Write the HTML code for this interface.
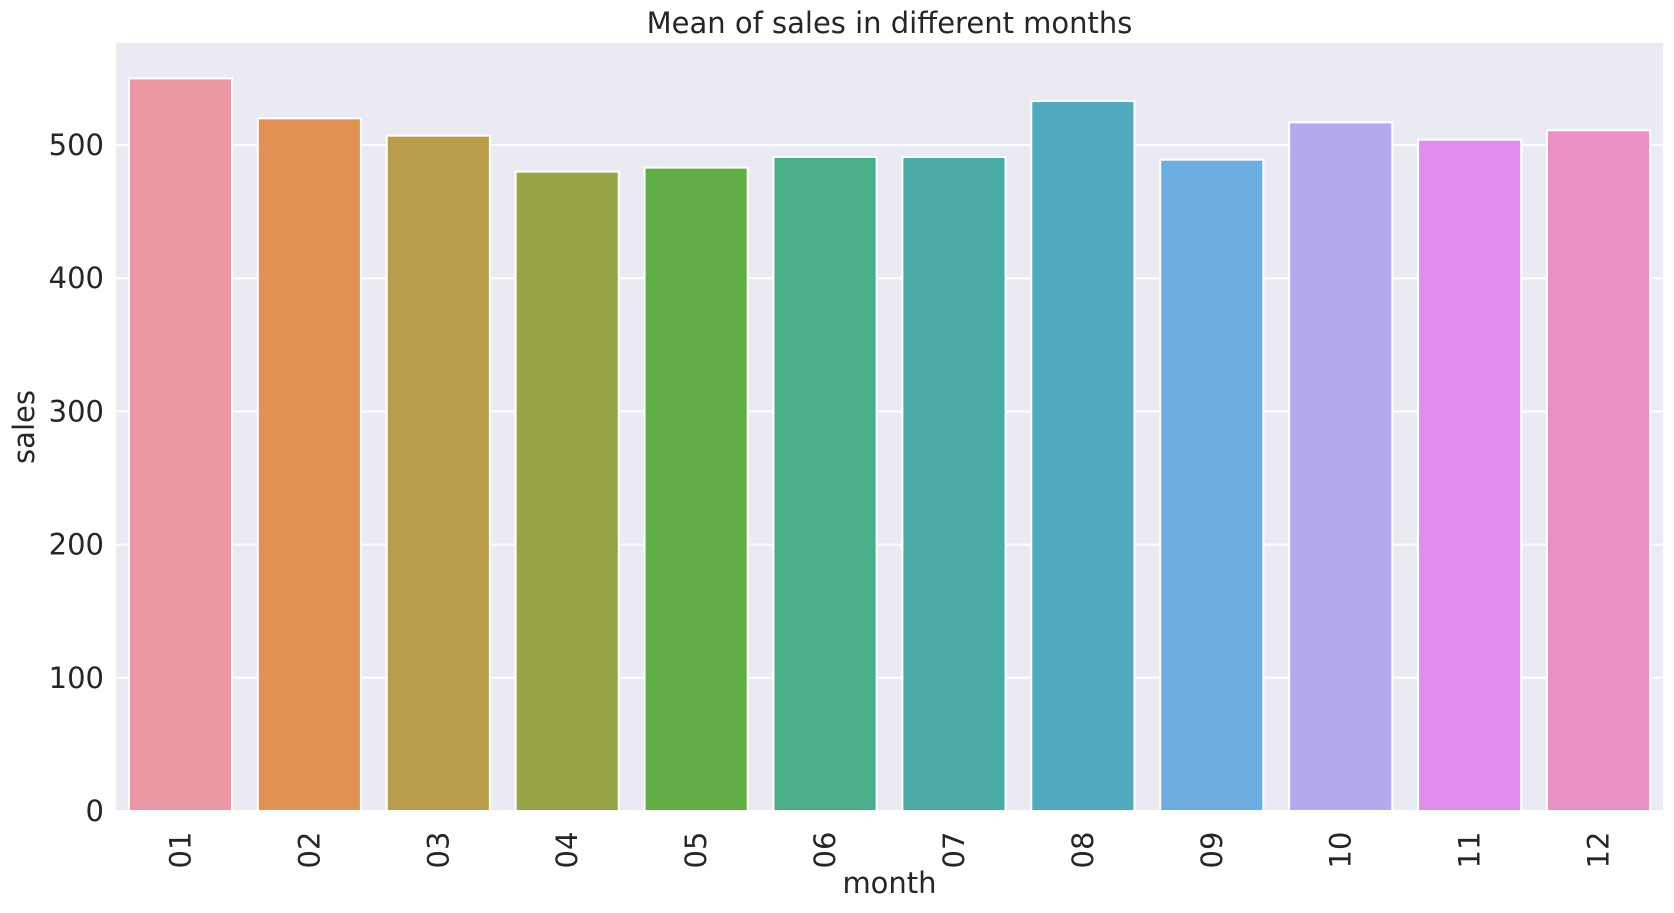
<!DOCTYPE html>
<html><head><meta charset="utf-8"><style>
body{margin:0;background:#fff;}
svg text{font-family:"DejaVu Sans","Liberation Sans",sans-serif;fill:#262626;}
</style></head><body>
<svg width="1674" height="908" viewBox="0 0 1674 908">
<rect x="116" y="43" width="1547" height="769" fill="#eaeaf2"/>
<g id="grid"></g><g id="bars"></g><g id="yticks"></g><g id="xticks"></g>
<text x="889.5" y="33" font-size="29" text-anchor="middle">Mean of sales in different months</text>
<text x="889.5" y="893" font-size="29" text-anchor="middle">month</text>
<text transform="translate(34,427) rotate(-90)" font-size="29" text-anchor="middle">sales</text>
</svg>
<script>
const categories=["01","02","03","04","05","06","07","08","09","10","11","12"];
const sales=[550,520,507,480,483,491,491,533,489,517,504,511];
const yTicks=[0,100,200,300,400,500];
const colors=["#ea96a3","#e19153","#b89c49","#98a246","#61ae47","#4aae88","#4aaaa4","#50abbe","#6daee2","#b5a8eb","#de8dea","#e88fc4"];
const NS="http://www.w3.org/2000/svg";
const L=116,R=1663,T=43,y0=811,k=1.332;
const y=v=>y0-v*k;
const band=(R-L)/categories.length;
const x=i=>L+band*i;
function mk(t,a,p){const e=document.createElementNS(NS,t);for(const n in a)e.setAttribute(n,a[n]);document.getElementById(p).appendChild(e);return e;}
yTicks.forEach(v=>{
 const g=mk('line',{x1:L,x2:R,y1:y(v),y2:y(v),stroke:'#fff','stroke-width':2},'grid');
 
 
 const t=mk('text',{x:104,y:y(v)+10,'font-size':29,'text-anchor':'end'},'yticks');
 t.textContent=v;
 
 
});
categories.forEach((c,i)=>{
 const b=mk('rect',{x:x(i)+band*0.1,y:y(sales[i]),width:band*0.8,height:y(0)-y(sales[i]),fill:colors[i],stroke:'#fff','stroke-width':2},'bars');
 
 
 const cx=x(i)+band/2;
 const t=mk('text',{transform:`translate(${cx+10},850) rotate(-90)`,'font-size':29,'text-anchor':'middle'},'xticks');
 t.textContent=c;
 
 
});
</script>
</body></html>
